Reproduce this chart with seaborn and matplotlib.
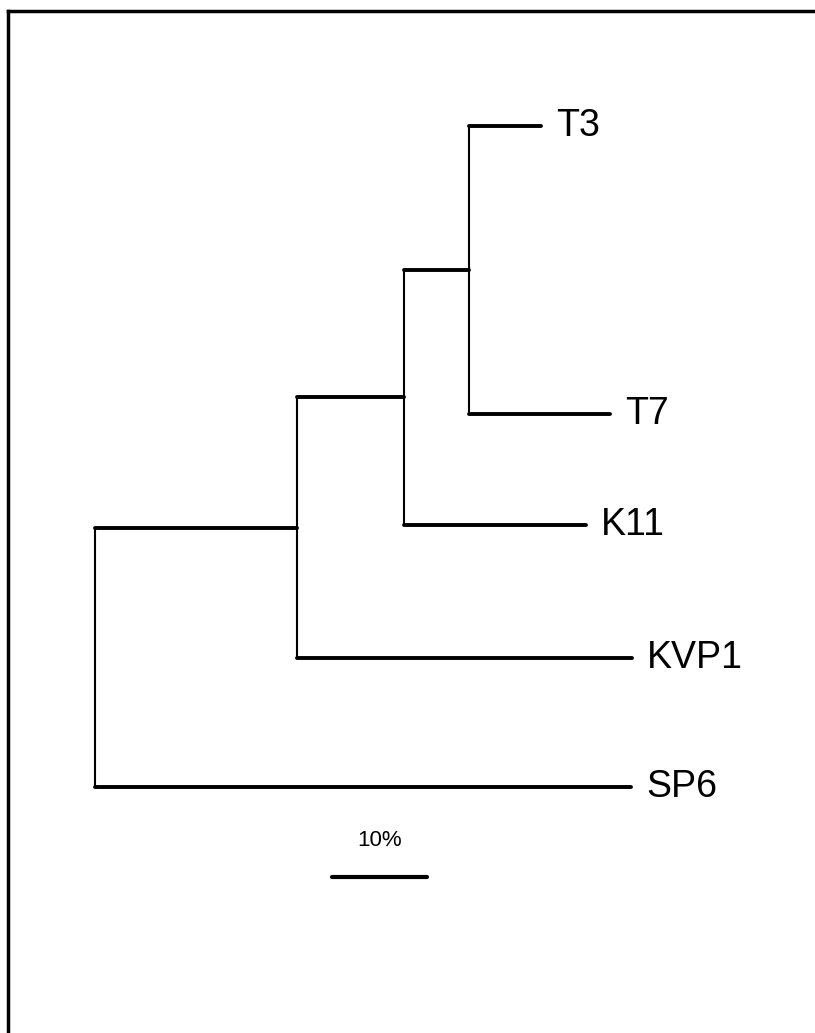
import numpy as np
import pandas as pd
import matplotlib
matplotlib.use("Agg")
import matplotlib.pyplot as plt
import seaborn as sns

# Phage RNA polymerase tree: node names, parents and branch lengths (% divergence)
nodes = ["root", "A", "B", "C", "T3", "T7", "K11", "KVP1", "SP6"]
parents = [None, "root", "A", "B", "C", "C", "B", "A", "root"]
branch_lengths = [0.0, 21.3, 11.2, 6.9, 7.5, 14.8, 19.2, 35.2, 56.4]

# Leaves listed top to bottom, with their vertical rows
leaves = ["T3", "T7", "K11", "KVP1", "SP6"]
leaf_rows = [0.0, 2.165, 3.0, 4.0, 4.97]

scale_value = 10.0
scale_label = "10%"

sns.set_style("white")
plt.rcParams["font.family"] = ["Liberation Sans", "DejaVu Sans"]

parent_of = dict(zip(nodes, parents))
length_of = dict(zip(nodes, branch_lengths))
children = {n: [c for c in nodes if parent_of[c] == n] for n in nodes}

# depth (x) from the root
xpos = {}
for n in nodes:
    d, cur = 0.0, n
    while cur is not None:
        d += length_of[cur]
        cur = parent_of[cur]
    xpos[n] = d

# row (y): leaves fixed, internal nodes at the midpoint of their children
ypos = dict(zip(leaves, leaf_rows))
def place(n):
    if n in ypos:
        return ypos[n]
    ys = [place(c) for c in children[n]]
    ypos[n] = (min(ys) + max(ys)) / 2
    return ypos[n]
place("root")

horiz, vert = [], []
for n in nodes:
    p = parent_of[n]
    if p is not None:
        horiz += [(n, xpos[p], ypos[n]), (n, xpos[n], ypos[n])]
    if children[n]:
        ys = [ypos[c] for c in children[n]]
        vert += [(n, xpos[n], min(ys)), (n, xpos[n], max(ys))]
hdf = pd.DataFrame(horiz, columns=["seg", "x", "y"])
vdf = pd.DataFrame(vert, columns=["seg", "x", "y"])

fig = plt.figure(figsize=(8.15, 10.33), dpi=100)
ax = fig.add_axes([8 / 815, 0, 807 / 815, 1022 / 1033])

sns.lineplot(data=vdf, x="x", y="y", units="seg", estimator=None, sort=False,
             color="black", linewidth=1.5, ax=ax, legend=False)
sns.lineplot(data=hdf, x="x", y="y", units="seg", estimator=None, sort=False,
             color="black", linewidth=2.8, ax=ax, legend=False,
             solid_capstyle="round")

for leaf in leaves:
    ax.text(xpos[leaf] + 1.6, ypos[leaf], leaf, fontsize=27,
            va="center", ha="left", color="black")

# scale bar
scale_start = 25.0
scale_row = 5.65
sdf = pd.DataFrame({"x": [scale_start, scale_start + scale_value],
                    "y": [scale_row, scale_row]})
sns.lineplot(data=sdf, x="x", y="y", estimator=None, sort=False,
             color="black", linewidth=3.0, ax=ax)
ax.text(scale_start + scale_value / 2, scale_row - 0.2, scale_label,
        fontsize=16, ha="center", va="bottom", color="black")

ax.set_xlim(-9.158, 75.79)
ax.set_ylim(6.82, -0.865)
ax.set_xticks([])
ax.set_yticks([])
ax.set_xlabel("")
ax.set_ylabel("")
for side in ["right", "bottom"]:
    ax.spines[side].set_visible(False)
for side in ["left", "top"]:
    ax.spines[side].set_visible(True)
    ax.spines[side].set_color("black")
    ax.spines[side].set_linewidth(2.5)

fig.savefig("out.png", dpi=100)
